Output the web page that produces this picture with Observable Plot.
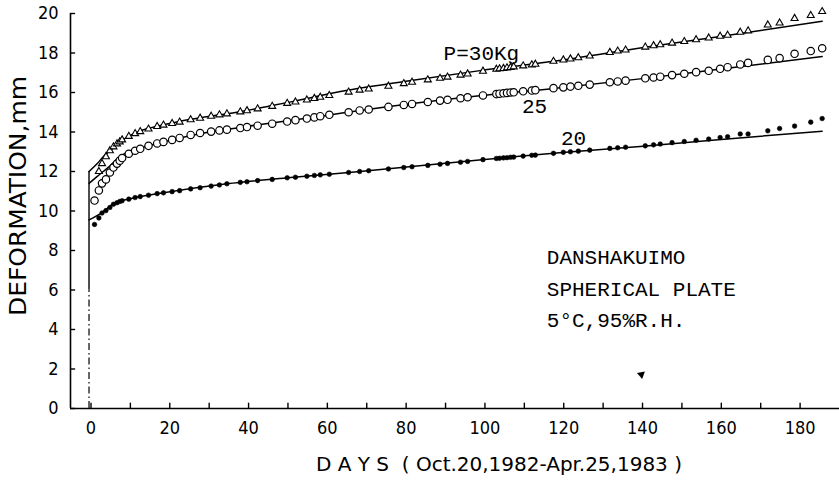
<!DOCTYPE html>
<html><head><meta charset="utf-8">
<script src="https://cdn.jsdelivr.net/npm/d3@7"></script>
<script src="https://cdn.jsdelivr.net/npm/@observablehq/plot@0.6"></script>
<style>body{margin:0;background:#fff}</style>
</head><body><div id="chart"></div>
<script>
// measurement days (shared by the three loads)
const days = [0.9, 2.0, 2.8, 3.8, 4.8, 5.7, 6.6, 7.3, 7.9, 9.6, 11.2, 12.5, 14.6, 16.8, 18.4, 20.6, 22.5, 25.3, 27.7, 30.5, 32.6, 34.5, 37.9, 39.6, 42.3, 46.0, 49.8, 51.9, 54.8, 56.7, 58.2, 60.5, 65.4, 68.2, 70.5, 75.5, 79.4, 81.5, 85.5, 88.6, 90.5, 93.8, 95.6, 99.5, 102.9, 103.7, 104.7, 105.6, 106.5, 107.3, 109.7, 111.9, 112.8, 117.4, 119.9, 121.7, 123.7, 126.6, 131.7, 133.7, 135.7, 140.7, 142.8, 144.5, 147.5, 150.6, 153.6, 156.8, 159.7, 161.6, 164.8, 166.8, 171.8, 174.8, 178.6, 182.7, 185.6];
// P = 30 Kg (triangles)
const p30 = [null, 12.0, 12.4, 12.75, 13.05, 13.25, 13.4, 13.5, 13.6, 13.78, 13.92, 14.02, 14.15, 14.28, 14.35, 14.43, 14.5, 14.62, 14.7, 14.8, 14.87, 14.92, 15.02, 15.08, 15.17, 15.3, 15.45, 15.52, 15.62, 15.7, 15.76, 15.85, 16.02, 16.12, 16.18, 16.32, 16.45, 16.52, 16.64, 16.72, 16.78, 16.88, 16.94, 17.08, 17.18, 17.2, 17.22, 17.25, 17.27, 17.3, 17.35, 17.4, 17.43, 17.58, 17.65, 17.7, 17.76, 17.85, 18.03, 18.1, 18.15, 18.3, 18.37, 18.42, 18.5, 18.58, 18.67, 18.76, 18.85, 18.9, 19.05, 19.12, 19.42, 19.52, 19.75, 19.9, 20.1];
// P = 25 Kg (open circles)
const p25 = [10.53, 11.04, 11.4, 11.6, 11.95, 12.2, 12.4, 12.55, 12.68, 12.9, 13.05, 13.15, 13.3, 13.42, 13.5, 13.6, 13.7, 13.85, 13.95, 14.02, 14.08, 14.12, 14.2, 14.25, 14.32, 14.42, 14.53, 14.6, 14.68, 14.74, 14.8, 14.87, 15.0, 15.09, 15.14, 15.27, 15.37, 15.42, 15.52, 15.59, 15.63, 15.71, 15.76, 15.85, 15.92, 15.94, 15.96, 15.98, 16.0, 16.01, 16.06, 16.1, 16.12, 16.22, 16.26, 16.3, 16.34, 16.4, 16.52, 16.56, 16.6, 16.72, 16.76, 16.8, 16.88, 16.95, 17.03, 17.1, 17.2, 17.28, 17.42, 17.5, 17.65, 17.74, 17.96, 18.1, 18.24];
// P = 20 Kg (filled dots)
const p20 = [9.32, 9.65, 9.9, 10.02, 10.18, 10.34, 10.42, 10.48, 10.52, 10.6, 10.68, 10.73, 10.8, 10.88, 10.92, 10.98, 11.03, 11.12, 11.18, 11.26, 11.32, 11.38, 11.45, 11.48, 11.54, 11.6, 11.68, 11.71, 11.76, 11.8, 11.83, 11.86, 11.95, 12.0, 12.04, 12.13, 12.2, 12.24, 12.31, 12.37, 12.41, 12.47, 12.51, 12.6, 12.66, 12.67, 12.69, 12.7, 12.72, 12.73, 12.78, 12.82, 12.83, 12.92, 12.97, 13.0, 13.03, 13.08, 13.17, 13.2, 13.23, 13.3, 13.35, 13.39, 13.46, 13.52, 13.58, 13.64, 13.72, 13.76, 13.9, 13.9, 14.06, 14.18, 14.3, 14.5, 14.68];

// fitted curves
const fit30Days = [-0.5, 1.6, 3.1, 4.9, 7.0, 9.2, 12.4, 17.6, 25.3, 34.5, 45, 51.4, 63.3, 79.5, 99.2, 118.9, 139.4, 158.4, 185.6];
const fit30 = [12.0, 12.4, 12.75, 13.06, 13.45, 13.74, 14.05, 14.33, 14.65, 14.92, 15.3, 15.55, 16.05, 16.56, 17.12, 17.62, 18.25, 18.8, 19.61];
const fit25Days = [-0.5, 1.6, 3.1, 4.9, 7.0, 9.2, 14.6, 26.0, 43, 59.8, 68.3, 99.2, 117.4, 139.4, 158.4, 185.6];
const fit25 = [11.4, 11.75, 12.0, 12.3, 12.7, 12.98, 13.3, 13.85, 14.38, 14.84, 15.09, 15.85, 16.2, 16.69, 17.15, 17.82];
const fit20Days = [-0.5, 2.4, 5.7, 10.5, 17.6, 34.5, 51.4, 68.3, 99.2, 118.9, 139.4, 158.4, 185.6];
const fit20 = [9.55, 9.87, 10.36, 10.65, 10.9, 11.38, 11.71, 12.0, 12.6, 12.95, 13.27, 13.6, 14.04];

// loading start line (day 0)
const startDay = [-0.5];
const startSolid = [6, 12];

// axes
const xDomain = [-5.2, 190];
const yDomain = [0, 20];
const yTicks = [0, 2, 4, 6, 8, 10, 12, 14, 16, 18, 20];
const xMajorTicks = [0, 20, 40, 60, 80, 100, 120, 140, 160, 180];
const xMinorTicks = [10, 30, 50, 70, 90, 110, 130, 150, 170];
const yTitle = "DEFORMATION,mm";
const xTitle = "D A Y S  ( Oct.20,1982-Apr.25,1983 )";

// annotations
const seriesLabels = [
  {text: "P=30Kg", day: 89.5, v: 17.66},
  {text: "25", day: 109.4, v: 14.95},
  {text: "20", day: 119.3, v: 13.32}
];
const noteLines = ["DANSHAKUIMO", "SPHERICAL PLATE", "5°C,95%R.H."];
const noteAnchor = {day: 115.7, v: [7.33, 5.72, 4.12]};
const stray = [{day: 139.7, v: 1.72}];

const rows = (xs, ys) => xs.map((d, i) => ({day: d, v: ys[i]})).filter(r => r.v != null);

const axisFont = "'DejaVu Sans Condensed', 'Liberation Sans Narrow', 'Roboto Condensed', 'DejaVu Sans Mono', monospace";
const typewriter = "'Courier New', 'Nimbus Mono PS', FreeMono, 'Liberation Mono', monospace";

const chart = Plot.plot({
  width: 839,
  height: 483,
  marginTop: 13,
  marginBottom: 75,
  marginLeft: 70,
  marginRight: 0,
  x: {domain: xDomain, axis: null},
  y: {domain: yDomain, axis: null},
  style: {fontFamily: axisFont, fontSize: "18px", color: "black", background: "white"},
  marks: [
    // axis lines
    Plot.ruleY([yDomain[0]], {x1: xDomain[0], x2: xDomain[1], stroke: "black", strokeWidth: 1.6}),
    Plot.ruleX([xDomain[0]], {y1: yDomain[0], y2: yDomain[1], stroke: "black", strokeWidth: 1.6}),
    // inward ticks
    Plot.ruleY(yTicks, {x1: xDomain[0], x2: xDomain[0] + 1.3, stroke: "black", strokeWidth: 1.4}),
    Plot.ruleX(xMajorTicks.concat(xMinorTicks), {y1: yDomain[0], y2: 0.27, stroke: "black", strokeWidth: 1.4}),
    // tick labels
    Plot.text(yTicks, {x: xDomain[0], y: d => d, text: d => String(d), dx: -12, textAnchor: "end", fontSize: 18, fill: "black"}),
    Plot.text(xMajorTicks, {x: d => d, y: yDomain[0], text: d => String(d), dy: 20, fontSize: 18, fill: "black"}),
    // axis titles
    Plot.text([yTitle], {frameAnchor: "left", textAnchor: "middle", dx: -52, dy: -15, rotate: -90, fontSize: 23, fill: "black"}),
    Plot.text([xTitle], {frameAnchor: "bottom", textAnchor: "middle", dx: 44, dy: 62, fontSize: 19, fill: "black"}),
    // loading start line
    Plot.ruleX(startDay, {y1: yDomain[0], y2: startSolid[0], stroke: "black", strokeWidth: 1.2, strokeDasharray: "7,3,1.5,3"}),
    Plot.ruleX(startDay, {y1: startSolid[0], y2: startSolid[1], stroke: "black", strokeWidth: 1.4}),
    // fitted curves
    Plot.line(rows(fit30Days, fit30), {x: "day", y: "v", curve: "monotone-x", stroke: "black", strokeWidth: 1.5}),
    Plot.line(rows(fit25Days, fit25), {x: "day", y: "v", curve: "monotone-x", stroke: "black", strokeWidth: 1.5}),
    Plot.line(rows(fit20Days, fit20), {x: "day", y: "v", curve: "monotone-x", stroke: "black", strokeWidth: 1.5}),
    // measured points
    Plot.dot(rows(days, p30), {x: "day", y: "v", symbol: "triangle", r: 2.6, stroke: "black", fill: "white", strokeWidth: 1.1}),
    Plot.dot(rows(days, p25), {x: "day", y: "v", symbol: "circle", r: 3.7, stroke: "black", fill: "white", strokeWidth: 1.2}),
    Plot.dot(rows(days, p20), {x: "day", y: "v", symbol: "circle", r: 2.3, fill: "black", stroke: "black", strokeWidth: 0.6}),
    // stray mark
    Plot.dot(stray, {x: "day", y: "v", symbol: "triangle", r: 3, fill: "black", rotate: -70}),
    // series labels
    Plot.text(seriesLabels, {x: "day", y: "v", text: "text", textAnchor: "start", lineAnchor: "bottom", fontSize: 21, fontFamily: typewriter, fill: "black"}),
    // note
    Plot.text(noteLines, {x: noteAnchor.day, y: (d, i) => noteAnchor.v[i], text: d => d, textAnchor: "start", lineAnchor: "bottom", fontSize: 21, fontFamily: typewriter, fill: "black"})
  ]
});
// fit the axis titles to the lengths they occupy in the original figure
d3.select(chart).selectAll("text").each(function () {
  const t = this.textContent;
  if (t === xTitle) { this.setAttribute("textLength", 366); this.setAttribute("lengthAdjust", "spacingAndGlyphs"); }
  if (t === yTitle) { this.setAttribute("textLength", 240); this.setAttribute("lengthAdjust", "spacingAndGlyphs"); }
});
document.getElementById("chart").appendChild(chart);
</script>
</body></html>
